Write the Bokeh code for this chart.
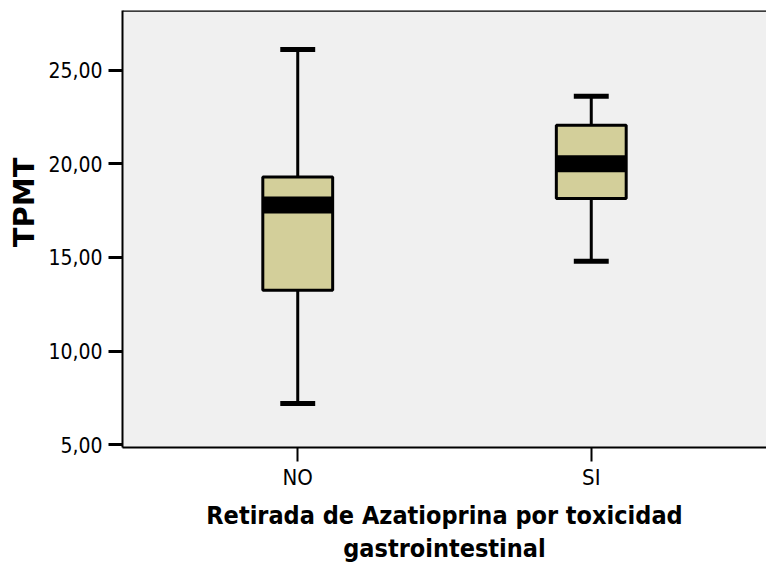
from bokeh.plotting import figure
from bokeh.models import FactorRange, Range1d, FixedTicker, Span, Title
from bokeh.embed import file_html
from bokeh.resources import INLINE

categories = ["NO", "SI"]
whisker_low = [7.2, 14.8]
q1 = [13.25, 18.15]
median = [17.8, 20.0]
q3 = [19.3, 22.05]
whisker_high = [26.1, 23.6]

y_ticks = [5, 10, 15, 20, 25]
y_tick_labels = ["5,00", "10,00", "15,00", "20,00", "25,00"]

x_title = "Retirada de Azatioprina por toxicidad\ngastrointestinal"
y_title = "TPMT"

NARROW = "'Liberation Sans Narrow', 'Arial Narrow', 'DejaVu Sans Condensed', Roboto, sans-serif"

Y0, Y1 = 4.856, 28.18

p = figure(
    width=766, height=579,
    x_range=FactorRange(*categories, range_padding=0.097),
    y_range=Range1d(Y0, Y1),
    output_backend="svg", toolbar_location=None,
    min_border_left=121, min_border_right=0, min_border_top=10, min_border_bottom=132,
)
p.background_fill_color = "#f0f0f0"
p.border_fill_color = "white"
p.outline_line_color = None
p.xgrid.grid_line_color = None
p.ygrid.grid_line_color = None

# whiskers
p.segment(x0=categories, y0=q3, x1=categories, y1=whisker_high, line_color="black", line_width=3)
p.segment(x0=categories, y0=q1, x1=categories, y1=whisker_low, line_color="black", line_width=3)
# caps
p.rect(x=categories, y=whisker_high, width=0.119, height=5, height_units="screen",
       fill_color="black", line_color=None)
p.rect(x=categories, y=whisker_low, width=0.119, height=5, height_units="screen",
       fill_color="black", line_color=None)
# boxes
p.vbar(x=categories, width=0.238, top=q3, bottom=q1, fill_color="#d3cf9a",
       line_color="black", line_width=3)
# medians
p.rect(x=categories, y=median, width=0.238, height=17, height_units="screen",
       fill_color="black", line_color=None)

# top border
p.add_layout(Span(location=Y1, dimension="width", line_color="black", line_width=2.5))

# y axis
ya = p.yaxis[0]
ya.ticker = FixedTicker(ticks=y_ticks)
ya.major_label_overrides = {t: l for t, l in zip(y_ticks, y_tick_labels)}
ya.major_tick_out = 14
ya.major_tick_in = 0
ya.minor_tick_out = 0
ya.minor_tick_in = 0
ya.major_tick_line_width = 3
ya.axis_line_width = 2
ya.major_label_text_font = NARROW
ya.major_label_text_font_size = "21px"
ya.major_label_text_color = "black"
ya.major_label_standoff = 6

# y title as a side title, aligned from the top of the frame
p.add_layout(Title(text=y_title, align="right", offset=147, standoff=9,
                   text_font="DejaVu Sans", text_font_style="bold",
                   text_font_size="29px", text_color="black"), "left")

# x axis
xa = p.xaxis[0]
xa.major_tick_out = 14
xa.major_tick_in = 0
xa.major_tick_line_width = 2
xa.axis_line_width = 2
xa.major_label_text_font = NARROW
xa.major_label_text_font_size = "22px"
xa.major_label_text_color = "black"
xa.major_label_standoff = 3
xa.axis_label = x_title
xa.axis_label_text_font = NARROW
xa.axis_label_text_font_style = "bold"
xa.axis_label_text_font_size = "25px"
xa.axis_label_text_color = "black"
xa.axis_label_text_line_height = 1.15
xa.axis_label_standoff = 8

open("out.html", "w").write(file_html(p, INLINE))
